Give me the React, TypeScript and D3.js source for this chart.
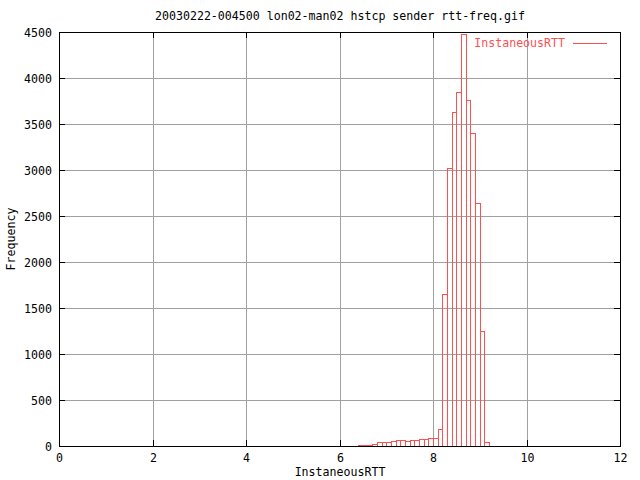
import React from 'react';
import * as d3 from 'd3';

// histogram bins (left edge of each 0.1 wide bin) and counts
const binStarts = [6.4, 6.5, 6.6, 6.7, 6.8, 6.9, 7.0, 7.1, 7.2, 7.3, 7.4, 7.5, 7.6, 7.7, 7.8, 7.9, 8.0, 8.1, 8.2, 8.3, 8.4, 8.5, 8.6, 8.7, 8.8, 8.9, 9.0, 9.1];
const frequencies = [8, 8, 8, 22, 43, 43, 43, 54, 62, 62, 51, 62, 62, 72, 72, 83, 83, 190, 1650, 3020, 3630, 3850, 4480, 3760, 3400, 2640, 1250, 40];
const binWidth = 0.1;

const xTicks = [0, 2, 4, 6, 8, 10, 12];
const yTicks = [0, 500, 1000, 1500, 2000, 2500, 3000, 3500, 4000, 4500];

const title = '20030222-004500 lon02-man02 hstcp sender rtt-freq.gif';
const xLabel = 'InstaneousRTT';
const yLabel = 'Frequency';
const seriesName = 'InstaneousRTT';

export default function App() {
  const width = 640;
  const height = 480;
  const left = 59, right = 620, top = 32, bottom = 446;

  const x = d3.scaleLinear().domain([0, 12]).range([left, right]);
  const y = d3.scaleLinear().domain([0, 4500]).range([bottom, top]);

  const red = '#ff5050';
  const font = 'DejaVu Sans Mono, monospace';
  const fs = 11.6;
  const tickLen = 6;

  return (
    <svg width={width} height={height} style={{ position: 'absolute', left: 0, top: 0, background: '#fff' }}
      fontFamily={font} fontSize={fs} shapeRendering="crispEdges">
      <rect x={0} y={0} width={width} height={height} fill="#fff" />
      {/* grid */}
      {xTicks.slice(1, -1).map(t => (
        <line key={'gx' + t} x1={Math.round(x(t)) + 0.5} x2={Math.round(x(t)) + 0.5} y1={top} y2={bottom} stroke="#a0a0a0" />
      ))}
      {yTicks.slice(1, -1).map(t => (
        <line key={'gy' + t} x1={left} x2={right} y1={Math.round(y(t)) + 0.5} y2={Math.round(y(t)) + 0.5} stroke="#a0a0a0" />
      ))}
      {/* ticks */}
      {xTicks.map(t => {
        const px = Math.round(x(t)) + 0.5;
        return (
          <g key={'tx' + t}>
            <line x1={px} x2={px} y1={bottom} y2={bottom - tickLen} stroke="#000" />
            <line x1={px} x2={px} y1={top} y2={top + tickLen} stroke="#000" />
            <text x={px} y={462} textAnchor="middle">{t}</text>
          </g>
        );
      })}
      {yTicks.map(t => {
        const py = Math.round(y(t)) + 0.5;
        return (
          <g key={'ty' + t}>
            <line x1={left} x2={left + tickLen} y1={py} y2={py} stroke="#000" />
            <line x1={right} x2={right - tickLen} y1={py} y2={py} stroke="#000" />
            <text x={52} y={py + 4} textAnchor="end">{t}</text>
          </g>
        );
      })}
      {/* histogram */}
      <line x1={x(0)} x2={x(12)} y1={Math.round(y(0)) + 0.5} y2={Math.round(y(0)) + 0.5} stroke={red} />
      {binStarts.map((b, i) => {
        const x0 = Math.round(x(b)) + 0.5;
        const x1 = Math.round(x(b + binWidth)) + 0.5;
        const y0 = Math.round(y(frequencies[i])) + 0.5;
        return (
          <rect key={'b' + i} x={x0} y={y0} width={x1 - x0} height={Math.round(y(0)) + 0.5 - y0}
            fill="none" stroke={red} />
        );
      })}
      {/* border */}
      <rect x={left + 0.5} y={top + 0.5} width={right - left} height={bottom - top} fill="none" stroke="#000" />
      {/* legend */}
      <text x={565} y={47} textAnchor="end" fill={red}>{seriesName}</text>
      <line x1={573} x2={607} y1={43.5} y2={43.5} stroke={red} />
      {/* titles */}
      <text x={340} y={20} textAnchor="middle">{title}</text>
      <text x={340} y={476} textAnchor="middle">{xLabel}</text>
      <text transform={`translate(15,${(top + bottom) / 2}) rotate(-90)`} textAnchor="middle">{yLabel}</text>
    </svg>
  );
}
